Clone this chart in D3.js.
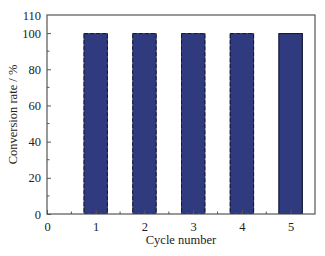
<!DOCTYPE html>
<html>
<head>
<meta charset="utf-8">
<script src="https://cdn.jsdelivr.net/npm/d3@7/dist/d3.min.js"></script>
<style>
  body { margin: 0; background: #fff; }
</style>
</head>
<body>
<svg id="chart"></svg>
<script>
// chart data
const cycles = [1, 2, 3, 4, 5];
const conversion = [100, 100, 100, 100, 100];
const yTicks = [0, 20, 40, 60, 80, 100, 110];
const xTicks = [0, 1, 2, 3, 4, 5];

const width = 325, height = 256;
const margin = { top: 15, right: 10, bottom: 42, left: 47 };
const serif = "'Liberation Serif', 'Times New Roman', Times, serif";

const svg = d3.select("#chart").attr("width", width).attr("height", height);

const x = d3.scaleLinear().domain([0, 5.5]).range([margin.left, width - margin.right]);
const y = d3.scaleLinear().domain([0, 110]).range([height - margin.bottom, margin.top]);

const barColor = "#2f3b7e";
const frameColor = "#555";

// bars: fill first, then an outline kept inside the fill so dash gaps show bar colour
const bars = svg.append("g");
bars.selectAll("rect.fill")
  .data(cycles)
  .enter().append("rect")
    .attr("class", "fill")
    .attr("x", d => x(d - 0.25))
    .attr("y", (d, i) => y(conversion[i]))
    .attr("width", x(0.5) - x(0))
    .attr("height", (d, i) => y(0) - y(conversion[i]))
    .attr("fill", barColor);
bars.selectAll("rect.edge")
  .data(cycles)
  .enter().append("rect")
    .attr("class", "edge")
    .attr("x", d => x(d - 0.25) + 0.5)
    .attr("y", (d, i) => y(conversion[i]) + 0.5)
    .attr("width", x(0.5) - x(0) - 1)
    .attr("height", (d, i) => y(0) - y(conversion[i]) - 1)
    .attr("fill", "none")
    .attr("stroke", "#15172a")
    .attr("stroke-width", 1)
    .attr("stroke-dasharray", (d, i) => i < 4 ? "4,2" : null);

// frame
svg.append("rect")
  .attr("x", x(0)).attr("y", y(110))
  .attr("width", x(5.5) - x(0)).attr("height", y(0) - y(110))
  .attr("fill", "none").attr("stroke", frameColor).attr("stroke-width", 1.2);

// y axis
const yAxis = d3.axisLeft(y).tickValues(yTicks).tickSize(-4).tickPadding(6);
const gy = svg.append("g").attr("transform", `translate(${x(0)},0)`).call(yAxis);
gy.attr("font-family", serif).attr("font-size", 12.5);
gy.select(".domain").remove();
gy.selectAll("line").attr("stroke", frameColor);
gy.selectAll("text").attr("fill", "#222");
gy.selectAll(".tick").filter(d => d === 110).select("line").remove();
// minor y ticks
svg.append("g").selectAll("line")
  .data([10, 30, 50, 70, 90])
  .enter().append("line")
    .attr("x1", x(0)).attr("x2", x(0) + 2.5)
    .attr("y1", d => y(d)).attr("y2", d => y(d))
    .attr("stroke", frameColor);

// x axis
const xAxis = d3.axisBottom(x).tickValues(xTicks).tickFormat(d3.format("d")).tickSize(-4).tickPadding(8);
const gx = svg.append("g").attr("transform", `translate(0,${y(0)})`).call(xAxis);
gx.attr("font-family", serif).attr("font-size", 12.5);
gx.select(".domain").remove();
gx.selectAll("line").attr("stroke", frameColor);
gx.selectAll("text").attr("fill", "#222");
// minor x ticks
svg.append("g").selectAll("line")
  .data([0.5, 1.5, 2.5, 3.5, 4.5])
  .enter().append("line")
    .attr("x1", d => x(d)).attr("x2", d => x(d))
    .attr("y1", y(0)).attr("y2", y(0) - 2.5)
    .attr("stroke", frameColor);

// axis titles
svg.append("text")
  .attr("x", (x(0) + x(5.5)) / 2)
  .attr("y", 244)
  .attr("text-anchor", "middle")
  .attr("font-family", serif).attr("font-size", 12.5).attr("fill", "#222")
  .text("Cycle number");

svg.append("text")
  .attr("transform", `translate(17,${(y(0) + y(110)) / 2}) rotate(-90)`)
  .attr("text-anchor", "middle")
  .attr("font-family", serif).attr("font-size", 12.5).attr("fill", "#222")
  .text("Conversion rate / %");
</script>
</body>
</html>
